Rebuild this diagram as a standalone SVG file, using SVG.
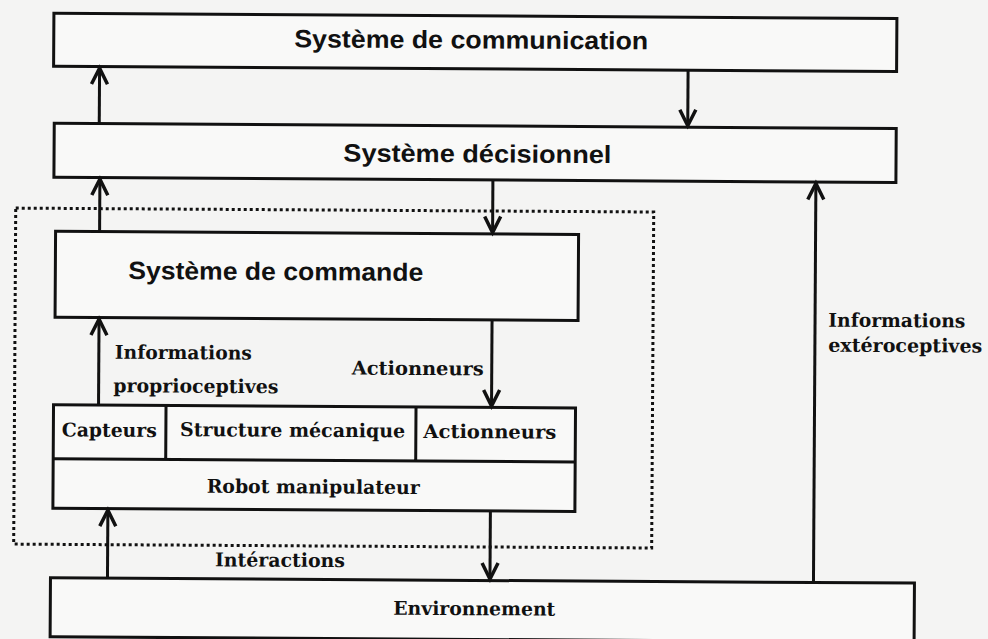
<svg xmlns="http://www.w3.org/2000/svg" width="988" height="639" viewBox="0 0 988 639">
  <style>
    .box { fill: #f9f9f8; stroke: #111; stroke-width: 3; }
    .div { stroke: #111; stroke-width: 3; fill: none; }
    .dotted { fill: none; stroke: #111; stroke-width: 3; stroke-dasharray: 3 3; }
    .conn { stroke: #111; stroke-width: 3; fill: none; marker-end: url(#arrow); }
    .title { font-family: "Liberation Sans", Arial, sans-serif; font-weight: bold; font-size: 25px; fill: #111; }
    .lbl { font-family: "DejaVu Serif", "Liberation Serif", serif; font-weight: bold; font-size: 19px; fill: #111; }
  </style>
  <defs>
    <marker id="arrow" markerUnits="userSpaceOnUse" viewBox="-20 -11 22 22" markerWidth="22" markerHeight="22" refX="0" refY="0" orient="auto" overflow="visible">
      <path d="M -16 -8 L 0 0 L -16 8" fill="none" stroke="#111" stroke-width="3.5" stroke-linejoin="miter"/>
    </marker>
  </defs>
  <rect x="0" y="0" width="988" height="639" fill="#f4f4f3"/>
  <g transform="rotate(0.35)">
    <rect id="perimetre" class="dotted" x="17" y="208" width="638" height="336"/>

    <g id="communication">
      <rect class="box" x="54" y="13" width="843" height="53"/>
      <text class="title" x="294.5" y="45.5" textLength="354" lengthAdjust="spacingAndGlyphs">Système de communication</text>
    </g>
    <g id="decisionnel">
      <rect class="box" x="55" y="123" width="842" height="54"/>
      <text class="title" x="344.3" y="159.4" textLength="268" lengthAdjust="spacingAndGlyphs">Système décisionnel</text>
    </g>
    <g id="commande">
      <rect class="box" x="57" y="231" width="523" height="86"/>
      <text class="title" x="130" y="278.3" textLength="295" lengthAdjust="spacingAndGlyphs">Système de commande</text>
    </g>
    <g id="robot">
      <rect class="box" x="56" y="404.5" width="522" height="103.5"/>
      <path class="div" d="M 56 458.5 H 578 M 168.5 404.5 V 458.5 M 418.5 404.5 V 458.5"/>
      <text class="lbl" x="64.4" y="436" textLength="95" lengthAdjust="spacingAndGlyphs">Capteurs</text>
      <text class="lbl" x="182.7" y="435" textLength="225" lengthAdjust="spacingAndGlyphs">Structure mécanique</text>
      <text class="lbl" x="426" y="435.3" textLength="133" lengthAdjust="spacingAndGlyphs">Actionneurs</text>
      <text class="lbl" x="209.7" y="491.5" textLength="213" lengthAdjust="spacingAndGlyphs">Robot manipulateur</text>
    </g>
    <g id="environnement">
      <rect class="box" x="54" y="577.5" width="864" height="59"/>
      <text class="lbl" x="397" y="612.3" textLength="162" lengthAdjust="spacingAndGlyphs">Environnement</text>
    </g>

    <g id="connecteurs">
      <path class="conn" d="M 100 123 V 67.5"/>
      <path class="conn" d="M 688.5 66 V 121.5"/>
      <path class="conn" d="M 101 231 V 178.5"/>
      <path class="conn" d="M 494 177 V 229.5"/>
      <path class="conn" d="M 101 404.5 V 318.5"/>
      <path class="conn" d="M 494 317 V 403"/>
      <path class="conn" d="M 111 577.5 V 509.5"/>
      <path class="conn" d="M 493.5 508 V 576"/>
      <path class="conn" d="M 817 577.5 V 178.5"/>
      <text class="lbl" x="117" y="358" textLength="137" lengthAdjust="spacingAndGlyphs">Informations</text>
      <text class="lbl" x="115.7" y="391.5" textLength="165" lengthAdjust="spacingAndGlyphs">proprioceptives</text>
      <text class="lbl" x="354" y="372.4" textLength="132" lengthAdjust="spacingAndGlyphs">Actionneurs</text>
      <text class="lbl" x="218.4" y="565" textLength="130" lengthAdjust="spacingAndGlyphs">Intéractions</text>
      <text class="lbl" x="830.3" y="321.6" textLength="137" lengthAdjust="spacingAndGlyphs">Informations</text>
      <text class="lbl" x="830.4" y="346.6" textLength="154" lengthAdjust="spacingAndGlyphs">extéroceptives</text>
    </g>
  </g>
</svg>
